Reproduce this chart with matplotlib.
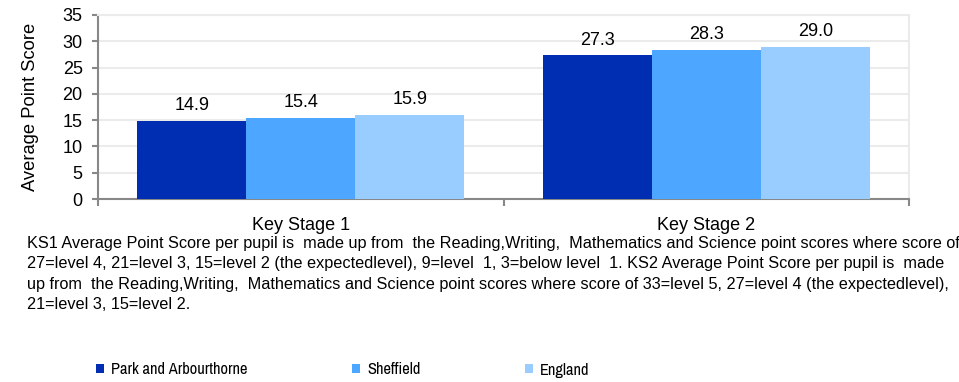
import numpy as np
import matplotlib.pyplot as plt

# average point scores per key stage
stages = ['Key Stage 1', 'Key Stage 2']
areas = ['Park and Arbourthorne', 'Sheffield', 'England']
park = [14.9, 27.3]
sheffield = [15.4, 28.3]
england = [15.9, 29.0]
colors = ['#002EB2', '#4DA6FF', '#99CCFF']

note_lines = [
    "KS1 Average Point Score per pupil is  made up from  the Reading,Writing,  Mathematics and Science point scores where score of",
    "27=level 4, 21=level 3, 15=level 2 (the expectedlevel), 9=level  1, 3=below level  1. KS2 Average Point Score per pupil is  made",
    "up from  the Reading,Writing,  Mathematics and Science point scores where score of 33=level 5, 27=level 4 (the expectedlevel),",
    "21=level 3, 15=level 2.",
]
narrow = ['Archivo Narrow', 'Liberation Sans']

plt.rcParams['font.family'] = ['Liberation Sans', 'DejaVu Sans']

fig = plt.figure(figsize=(9.59, 3.82), dpi=100)
ax = fig.add_axes([0.1022, 0.479, 0.8457, 0.4818])

x = np.arange(len(stages))
w = 0.269
for i, (vals, name) in enumerate(zip([park, sheffield, england], areas)):
    bars = ax.bar(x + (i - 1) * w, vals, w, color=colors[i], label=name, zorder=3)
    for b, v in zip(bars, vals):
        ax.annotate(f'{v:.1f}', (b.get_x() + b.get_width() / 2, v), xytext=(0, 5),
                    textcoords='offset points', ha='center', va='bottom', fontsize=13)

ax.set_xlim(-0.5, 1.5)
ax.set_ylim(0, 35)
ax.set_yticks(range(0, 36, 5))
ax.yaxis.grid(True, color='#EBEBEB', linewidth=1.5, zorder=0)
ax.set_xticks([-0.5, 0.5, 1.5])
ax.set_xticklabels([])
ax.set_xticks(x, minor=True)
ax.set_xticklabels(stages, minor=True, fontsize=13)
ax.tick_params(axis='x', which='minor', length=0, pad=13)
ax.tick_params(axis='x', which='major', length=5, width=1.5, color='#888888')
ax.tick_params(axis='y', length=4, width=1.5, color='#888888', labelsize=13, pad=7)
for side in ['left', 'bottom']:
    ax.spines[side].set_color('#888888')
    ax.spines[side].set_linewidth(1.5)
for side in ['top', 'right']:
    ax.spines[side].set_color('#EBEBEB')
    ax.spines[side].set_linewidth(1.5)
ax.set_ylabel('Average Point Score', fontsize=13.2, labelpad=17)

# footnote, one text per line so the line gaps stay fixed
for k, line in enumerate(note_lines):
    fig.text(0.028, 1 - (248 + 20.4 * k) / 382, line, fontsize=11.7, va='baseline', ha='left')

fig.legend(loc='center left', bbox_to_anchor=(0.085, 1 - 370 / 382), ncol=3, frameon=False,
           prop={'family': narrow, 'size': 11.8}, handlelength=0.45, handleheight=0.45,
           handletextpad=0.45, columnspacing=6.4)

fig.savefig('out.png', dpi=100)
